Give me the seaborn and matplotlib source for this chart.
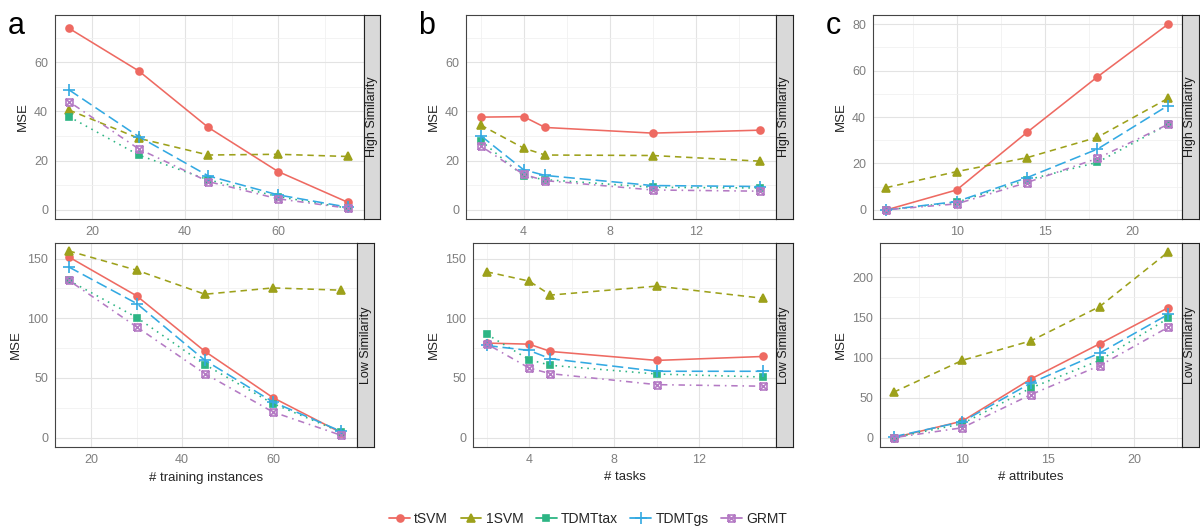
import numpy as np
import pandas as pd
import matplotlib
matplotlib.use("Agg")
import matplotlib.pyplot as plt
import seaborn as sns
from matplotlib.path import Path
from matplotlib.lines import Line2D
from matplotlib.ticker import MultipleLocator

sns.set_style("white")
plt.rcParams["font.family"] = ["Liberation Sans", "DejaVu Sans"]

methods = ["tSVM", "1SVM", "TDMTtax", "TDMTgs", "GRMT"]

# panel a: number of training instances
x_instances = [15, 30, 45, 60, 75]
a_high = {
    "tSVM": [73.8, 56.5, 33.5, 15.6, 3.1],
    "1SVM": [40.6, 29.1, 22.3, 22.6, 21.7],
    "TDMTtax": [37.9, 22.3, 12.2, 5.4, 0.7],
    "TDMTgs": [48.8, 29.8, 13.8, 6.1, 1.1],
    "GRMT": [44.0, 24.8, 11.5, 4.5, 0.7],
}
a_low = {
    "tSVM": [151.4, 118.7, 72.3, 33.5, 4.2],
    "1SVM": [156.4, 140.2, 120.1, 125.4, 123.5],
    "TDMTtax": [131.8, 100.6, 61.2, 28.5, 4.7],
    "TDMTgs": [143.0, 112.3, 64.8, 29.9, 5.3],
    "GRMT": [131.8, 92.7, 53.6, 21.5, 2.0],
}

# panel b: number of tasks
x_tasks = [2, 4, 5, 10, 15]
b_high = {
    "tSVM": [37.7, 37.9, 33.5, 31.2, 32.4],
    "1SVM": [34.5, 25.1, 22.3, 22.1, 19.8],
    "TDMTtax": [28.2, 13.7, 12.3, 9.2, 8.9],
    "TDMTgs": [30.2, 16.3, 14.0, 9.9, 9.5],
    "GRMT": [26.0, 14.4, 11.9, 8.1, 7.6],
}
b_low = {
    "tSVM": [79.2, 78.3, 72.2, 64.7, 68.0],
    "1SVM": [138.9, 131.1, 119.4, 126.9, 116.7],
    "TDMTtax": [86.7, 65.3, 60.6, 53.3, 50.8],
    "TDMTgs": [77.2, 73.0, 66.1, 55.6, 55.6],
    "GRMT": [78.6, 58.3, 53.6, 44.4, 43.1],
}

# panel c: number of attributes
x_attributes = [6, 10, 14, 18, 22]
c_high = {
    "tSVM": [0.0, 8.6, 33.4, 57.3, 79.9],
    "1SVM": [9.6, 16.5, 22.5, 31.3, 48.0],
    "TDMTtax": [0.0, 3.3, 12.9, 20.5, 36.8],
    "TDMTgs": [0.0, 3.6, 13.9, 26.2, 44.9],
    "GRMT": [0.1, 2.6, 11.8, 22.2, 36.8],
}
c_low = {
    "tSVM": [0.0, 20.7, 73.3, 117.2, 162.3],
    "1SVM": [56.7, 96.5, 120.9, 163.6, 231.9],
    "TDMTtax": [0.0, 17.4, 62.1, 96.5, 149.1],
    "TDMTgs": [1.2, 19.9, 68.3, 105.6, 154.0],
    "GRMT": [0.0, 12.4, 53.8, 89.9, 137.9],
}

colors = {"tSVM": "#EE6A62", "1SVM": "#9DA11B", "TDMTtax": "#2DB584",
          "TDMTgs": "#33A9E2", "GRMT": "#B47AC4"}
dashes = {"tSVM": "-", "1SVM": (0, (4, 3)), "TDMTtax": (0, (1, 3)),
          "TDMTgs": (0, (7, 3)), "GRMT": (0, (1, 3, 4, 3))}

# square with an x through it
boxx = Path([(-1, -1), (1, -1), (1, 1), (-1, 1), (-1, -1), (-1, -1), (1, 1), (-1, 1), (1, -1)],
            [Path.MOVETO, Path.LINETO, Path.LINETO, Path.LINETO, Path.LINETO,
             Path.MOVETO, Path.LINETO, Path.MOVETO, Path.LINETO])
markers = {"tSVM": "o", "1SVM": "^", "TDMTtax": "s", "TDMTgs": "+", "GRMT": boxx}
msize = {"tSVM": 5, "1SVM": 6, "TDMTtax": 5, "TDMTgs": 8.5, "GRMT": 5}
filled = ("tSVM", "1SVM", "TDMTtax")

W, H = 1200, 532
fig = plt.figure(figsize=(12, 5.32), dpi=100)


def pix_axes(l, t, r, b):
    return fig.add_axes([l / W, 1 - b / H, (r - l) / W, (b - t) / H])


def draw_panel(box, strip_r, x, series, xlim, ylim, xmaj, ymaj, strip_label,
               xlabel=None):
    l, t, r, b = box
    ax = pix_axes(l, t, r, b)
    for m in methods:
        sns.lineplot(x=x, y=series[m], ax=ax, color=colors[m], linestyle=dashes[m],
                     linewidth=1.15, marker=markers[m], markersize=msize[m],
                     markeredgecolor=colors[m],
                     markerfacecolor=colors[m] if m in filled else "none",
                     markeredgewidth=1.2, zorder=3)
    ax.set_xlim(*xlim)
    ax.set_ylim(*ylim)
    ax.xaxis.set_major_locator(MultipleLocator(xmaj))
    ax.xaxis.set_minor_locator(MultipleLocator(xmaj / 2))
    ax.yaxis.set_major_locator(MultipleLocator(ymaj))
    ax.yaxis.set_minor_locator(MultipleLocator(ymaj / 2))
    ax.grid(which="major", color="#E3E3E3", linewidth=0.8)
    ax.grid(which="minor", color="#F1F1F1", linewidth=0.6)
    ax.set_axisbelow(True)
    for s in ax.spines.values():
        s.set_color("#444444")
        s.set_linewidth(0.8)
    ax.tick_params(which="major", length=3, color="#777777", labelsize=9,
                   labelcolor="#7F7F7F", pad=2)
    ax.tick_params(which="minor", length=0)
    ax.set_ylabel("MSE", fontsize=9.5, labelpad=4)
    ax.set_xlabel(xlabel if xlabel else "", fontsize=9.5, labelpad=4)
    sax = pix_axes(r, t, strip_r, b)
    sax.set_facecolor("#D9D9D9")
    sax.set_xticks([])
    sax.set_yticks([])
    for s in sax.spines.values():
        s.set_color("#222222")
        s.set_linewidth(0.8)
    sax.text(0.5, 0.5, strip_label, rotation=90, ha="center", va="center",
             fontsize=9, color="#1A1A1A", transform=sax.transAxes)
    return ax


draw_panel((55, 15, 364, 219), 380, x_instances, a_high, (12, 78.5), (-3.7, 79.2),
           20, 20, "High Similarity")
draw_panel((55, 243, 357, 447), 374, x_instances, a_low, (12, 78.5), (-7.8, 163),
           20, 50, "Low Similarity", "# training instances")
draw_panel((466, 15, 776, 219), 793, x_tasks, b_high, (1.32, 15.74), (-3.7, 79.2),
           4, 20, "High Similarity")
draw_panel((473, 243, 776, 447), 793, x_tasks, b_low, (1.36, 15.6), (-7.8, 163),
           4, 50, "Low Similarity", "# tasks")
draw_panel((873, 15, 1182, 219), 1199, x_attributes, c_high, (5.25, 22.8), (-3.9, 83.9),
           5, 20, "High Similarity")
draw_panel((880, 243, 1182, 447), 1199, x_attributes, c_low, (5.21, 22.8), (-11.6, 243),
           5, 50, "Low Similarity", "# attributes")

for lab, px in (("a", 8), ("b", 418), ("c", 826)):
    fig.text(px / W, 1 - 34 / H, lab, fontsize=22, color="black")

handles = [Line2D([0], [0], color=colors[m], linewidth=1.3, linestyle="-",
                  marker=markers[m], markersize=msize[m], markeredgecolor=colors[m],
                  markerfacecolor=colors[m] if m in filled else "none",
                  markeredgewidth=1.2)
           for m in methods]
fig.legend(handles, methods, loc="center", bbox_to_anchor=(588 / W, 1 - 519 / H),
           ncol=5, frameon=False, fontsize=10, handlelength=1.5, handletextpad=0.3,
           columnspacing=0.9)

fig.savefig("out.png", dpi=100)
